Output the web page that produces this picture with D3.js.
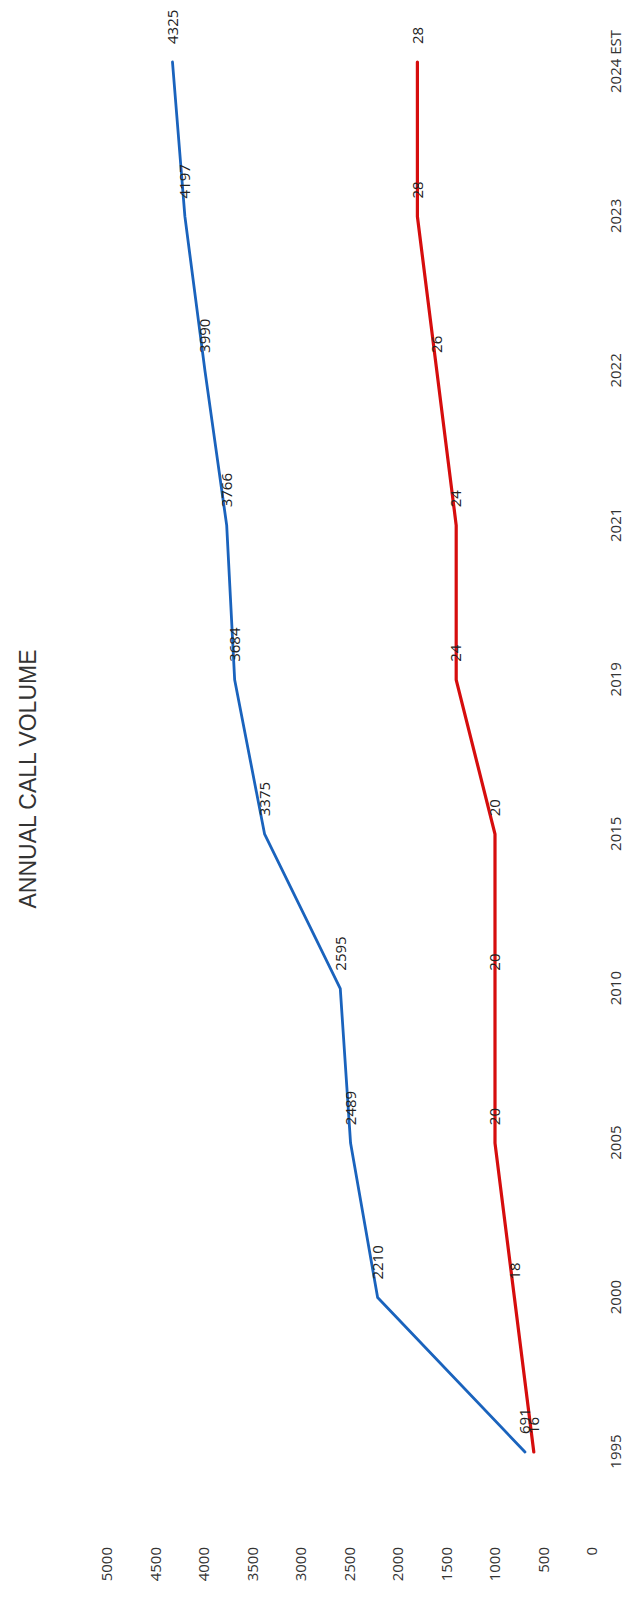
<!DOCTYPE html>
<html>
<head>
<meta charset="utf-8">
<script src="https://cdn.jsdelivr.net/npm/d3@7"></script>
<style>
    body { margin: 0; background: #fff; }
    text { font-family: "Open Sans", "Liberation Sans", sans-serif; fill: #333; }
    .tick-label { font-size: 15px; }
    .point-label { font-size: 15px; fill: #222; }
    .chart-title { font-family: "Liberation Sans", Arial, sans-serif; font-size: 23px; fill: #333; }
</style>
</head>
<body>
<div class="chart"></div>
<script>
const years = ['1995', '2000', '2005', '2010', '2015', '2019', '2021', '2022', '2023', '2024 EST'];
const callVolume = [691, 2210, 2489, 2595, 3375, 3684, 3766, 3990, 4197, 4325];
const secondSeries = [16, 18, 20, 20, 20, 24, 24, 26, 28, 28];
const valueTicks = [0, 500, 1000, 1500, 2000, 2500, 3000, 3500, 4000, 4500, 5000];

const pageWidth = 633;
const pageHeight = 1599;

let svg = d3.select(".chart").append("svg")
    .attr("width", pageWidth)
    .attr("height", pageHeight);

// chart is drawn in its normal orientation, then turned a quarter turn
let g = svg.append("g")
    .attr("transform", `translate(0, ${pageHeight}) rotate(-90)`);

let x = d3.scalePoint()
    .domain(years)
    .range([147, 1537]);

let y = d3.scaleLinear()
    .domain([0, 5000])
    .range([592, 107]);

// hidden secondary axis for the small series
let y2 = d3.scaleLinear()
    .domain([10, 60])
    .range([592, 107]);

// value axis (labels only)
let yAxis = g.append("g")
    .attr("transform", "translate(58, 0)")
    .call(d3.axisLeft(y).tickValues(valueTicks).tickFormat(d3.format("d")).tickSize(0).tickPadding(6));
yAxis.select(".domain").remove();
yAxis.selectAll("text").classed("tick-label", true).attr("font-size", null).attr("font-family", null);

// year axis (labels only)
let xAxis = g.append("g")
    .attr("transform", "translate(0, 600)")
    .call(d3.axisBottom(x).tickSize(0).tickPadding(10));
xAxis.select(".domain").remove();
xAxis.selectAll("text").classed("tick-label", true).attr("font-size", null).attr("font-family", null);

g.append("text")
    .classed("chart-title", true)
    .attr("x", 820)
    .attr("y", 36)
    .attr("text-anchor", "middle")
    .text("ANNUAL CALL VOLUME");

const series = [
    {values: callVolume, scale: y, color: '#1a63bd', width: 2.8},
    {values: secondSeries, scale: y2, color: '#d60d0d', width: 3.2}
];

series.forEach(s => {
    let line = d3.line()
        .x((_, i) => x(years[i]))
        .y(d => s.scale(d));

    g.append("path")
        .datum(s.values)
        .attr("d", line)
        .attr("fill", "none")
        .attr("stroke", s.color)
        .attr("stroke-width", s.width)
        .attr("stroke-linejoin", "round")
        .attr("stroke-linecap", "round");
});

series.forEach(s => {
    g.append("g")
        .selectAll("text")
        .data(s.values)
        .join("text")
        .classed("point-label", true)
        .attr("x", (_, i) => x(years[i]) + 18)
        .attr("y", d => s.scale(d))
        .attr("dy", "0.35em")
        .text(d => d);
});
</script>
</body>
</html>
